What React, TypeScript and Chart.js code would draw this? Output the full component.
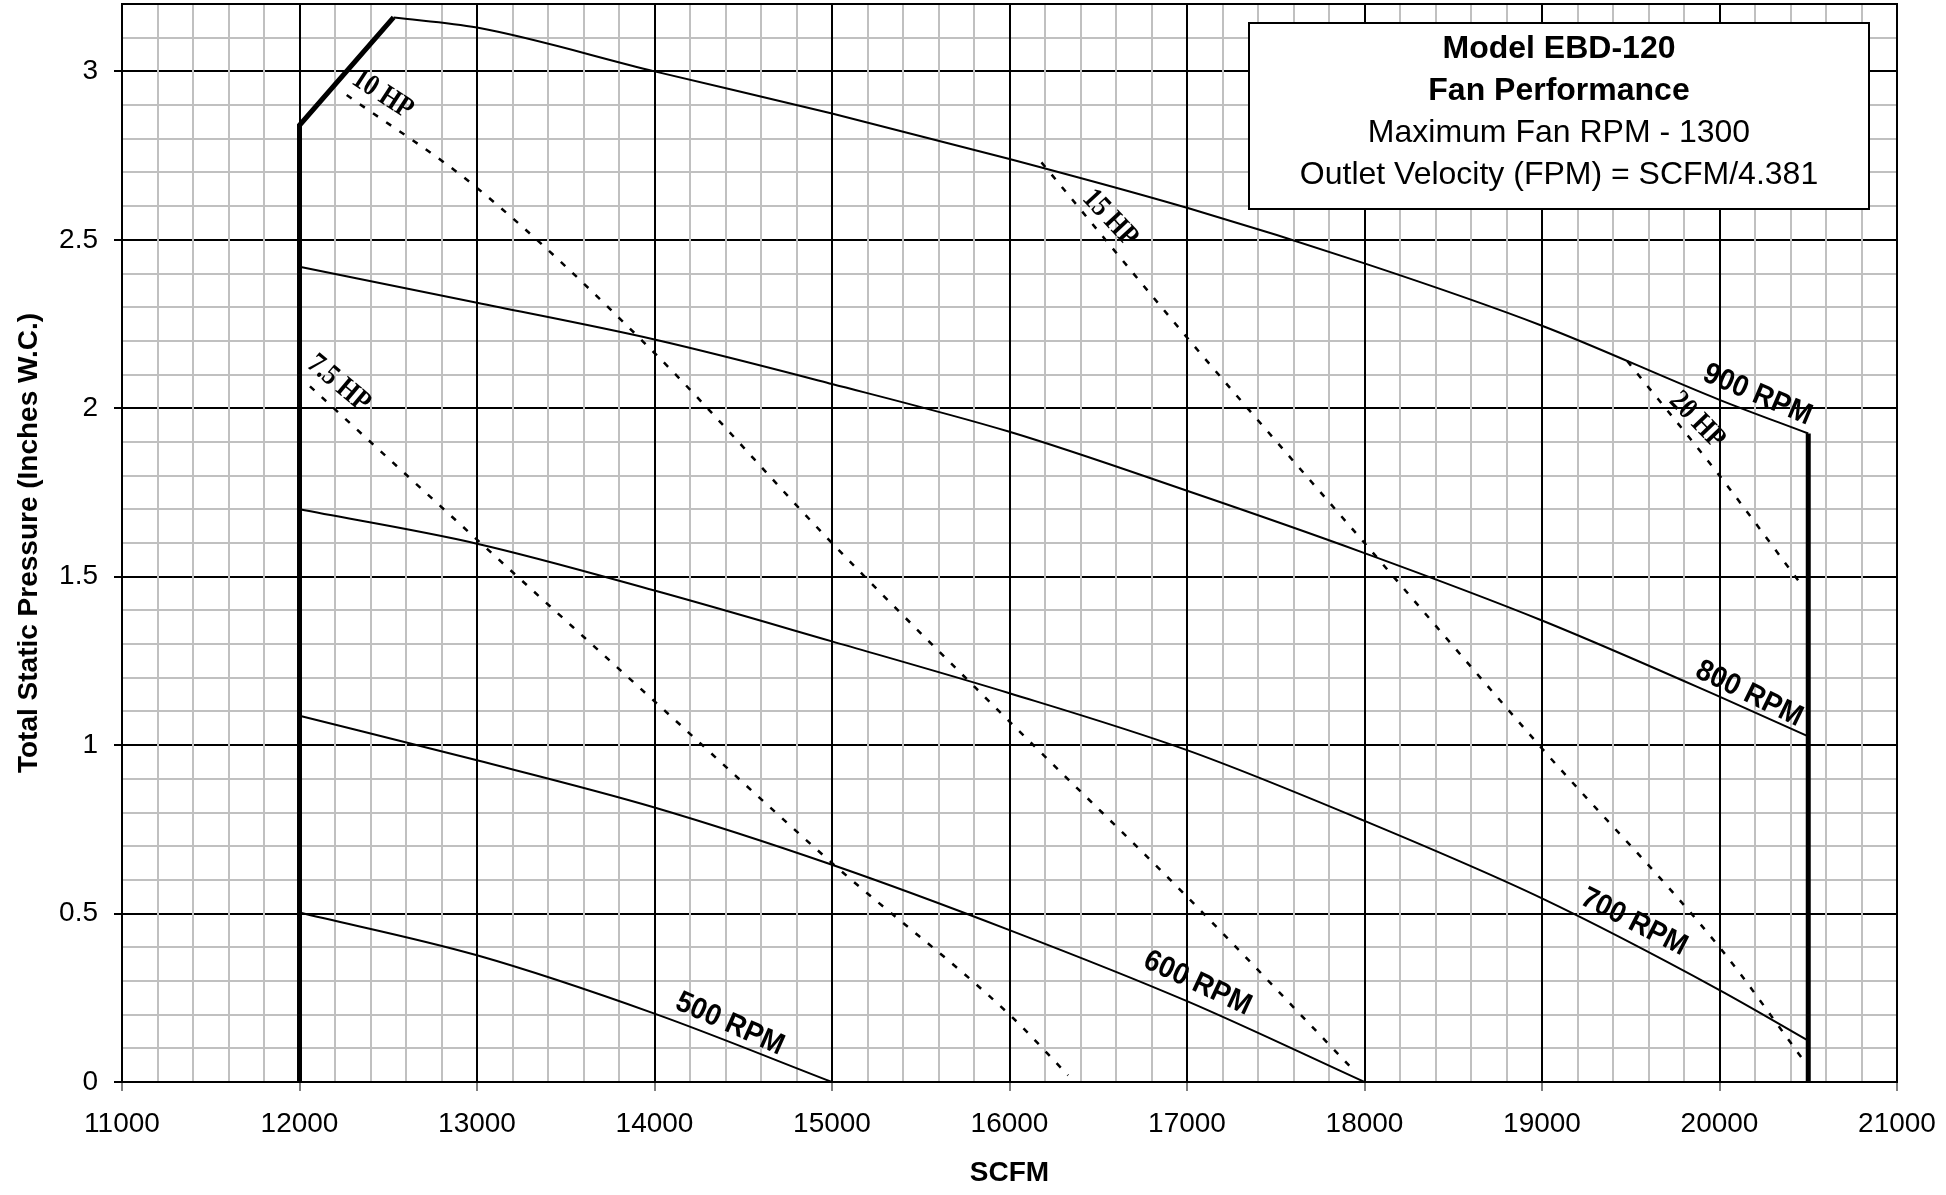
import React, { useEffect, useRef } from 'react';
import { Chart, registerables } from 'chart.js';

Chart.register(...registerables);

type P = { x: number; y: number };

// ---- Data (SCFM vs Total Static Pressure, inches W.C.) ----
const boundaryLeft: P[] = [
  { x: 12000, y: 0 },
  { x: 12000, y: 2.84 },
  { x: 12530, y: 3.16 },
];
const boundaryRight: P[] = [
  { x: 20500, y: 1.925 },
  { x: 20500, y: 0 },
];

const rpm900: P[] = [
  { x: 12530, y: 3.16 }, { x: 13000, y: 3.13 }, { x: 14000, y: 3.0 }, { x: 15000, y: 2.875 },
  { x: 16000, y: 2.74 }, { x: 17000, y: 2.595 }, { x: 18000, y: 2.43 }, { x: 19000, y: 2.245 },
  { x: 20000, y: 2.025 }, { x: 20500, y: 1.925 },
];
const rpm800: P[] = [
  { x: 12000, y: 2.42 }, { x: 13000, y: 2.313 }, { x: 14000, y: 2.204 }, { x: 15000, y: 2.072 },
  { x: 16000, y: 1.93 }, { x: 17000, y: 1.755 }, { x: 18000, y: 1.57 }, { x: 19000, y: 1.37 },
  { x: 20000, y: 1.144 }, { x: 20500, y: 1.026 },
];
const rpm700: P[] = [
  { x: 12000, y: 1.7 }, { x: 13000, y: 1.598 }, { x: 14000, y: 1.459 }, { x: 15000, y: 1.308 },
  { x: 16000, y: 1.154 }, { x: 17000, y: 0.985 }, { x: 18000, y: 0.775 }, { x: 19000, y: 0.545 },
  { x: 20000, y: 0.273 }, { x: 20500, y: 0.123 },
];
const rpm600: P[] = [
  { x: 12000, y: 1.087 }, { x: 13000, y: 0.955 }, { x: 14000, y: 0.815 }, { x: 15000, y: 0.645 },
  { x: 16000, y: 0.451 }, { x: 17000, y: 0.24 }, { x: 18000, y: 0.0 },
];
const rpm500: P[] = [
  { x: 12000, y: 0.503 }, { x: 13000, y: 0.376 }, { x: 14000, y: 0.203 }, { x: 15000, y: 0.0 },
];

const hp75: P[] = [
  { x: 12059, y: 2.065 }, { x: 13000, y: 1.61 }, { x: 14000, y: 1.13 }, { x: 15000, y: 0.65 },
  { x: 16000, y: 0.2 }, { x: 16330, y: 0.02 },
];
const hp10: P[] = [
  { x: 12266, y: 2.93 }, { x: 13000, y: 2.654 }, { x: 14000, y: 2.164 }, { x: 15000, y: 1.6 },
  { x: 16000, y: 1.07 }, { x: 17000, y: 0.55 }, { x: 17930, y: 0.04 },
];
const hp15: P[] = [
  { x: 16180, y: 2.73 }, { x: 17000, y: 2.21 }, { x: 18000, y: 1.6 }, { x: 19000, y: 0.99 },
  { x: 20000, y: 0.4 }, { x: 20480, y: 0.06 },
];
const hp20: P[] = [
  { x: 19480, y: 2.14 }, { x: 20000, y: 1.8 }, { x: 20470, y: 1.47 },
];

// Curve labels (anchor in data units, angle in degrees)
const rpmLabels = [
  { text: '900 RPM', x: 20214, y: 2.04, angle: 23 },
  { text: '800 RPM', x: 20166, y: 1.152, angle: 26 },
  { text: '700 RPM', x: 19518, y: 0.474, angle: 27 },
  { text: '600 RPM', x: 17059, y: 0.293, angle: 25 },
  { text: '500 RPM', x: 14424, y: 0.172, angle: 24 },
];
const hpLabels = [
  { text: '10 HP', x: 12468, y: 2.931, angle: 33 },
  { text: '7.5 HP', x: 12221, y: 2.073, angle: 40 },
  { text: '15 HP', x: 16566, y: 2.564, angle: 47 },
  { text: '20 HP', x: 19873, y: 1.964, angle: 46 },
];

const infoLines = [
  { text: 'Model EBD-120', bold: true },
  { text: 'Fan Performance', bold: true },
  { text: 'Maximum Fan RPM - 1300', bold: false },
  { text: 'Outlet Velocity (FPM) = SCFM/4.381', bold: false },
];

const X_MIN = 11000, X_MAX = 21000, X_STEP = 200, X_MAJOR = 1000;
const Y_MIN = 0, Y_MAX = 3.2, Y_STEP = 0.1, Y_MAJOR = 0.5;

const SANS = '"Liberation Sans", Arial, sans-serif';
const SERIF = '"Liberation Serif", "Times New Roman", serif';

const isMajorX = (v: number) => Math.abs(v / X_MAJOR - Math.round(v / X_MAJOR)) < 1e-6;
const isMajorY = (v: number) => Math.abs(v / Y_MAJOR - Math.round(v / Y_MAJOR)) < 1e-6;

const annotPlugin = {
  id: 'annot',
  beforeDatasetsDraw(chart: any) {
    const { ctx, chartArea } = chart;
    ctx.save();
    ctx.strokeStyle = '#000';
    ctx.lineWidth = 2;
    ctx.strokeRect(chartArea.left, chartArea.top, chartArea.right - chartArea.left, chartArea.bottom - chartArea.top);
    ctx.restore();
  },
  afterDatasetsDraw(chart: any) {
    const { ctx, chartArea } = chart;
    const xs = chart.scales.x;
    const ys = chart.scales.y;
    ctx.save();
    ctx.fillStyle = '#000';
    ctx.textAlign = 'center';
    ctx.textBaseline = 'middle';
    for (const l of rpmLabels) {
      ctx.save();
      ctx.translate(xs.getPixelForValue(l.x), ys.getPixelForValue(l.y));
      ctx.rotate((l.angle * Math.PI) / 180);
      ctx.scale(0.92, 1);
      ctx.font = `bold 30px ${SANS}`;
      ctx.fillText(l.text, 0, 0);
      ctx.restore();
    }
    for (const l of hpLabels) {
      ctx.save();
      ctx.translate(xs.getPixelForValue(l.x), ys.getPixelForValue(l.y));
      ctx.rotate((l.angle * Math.PI) / 180);
      ctx.scale(0.84, 1);
      ctx.font = `bold 30px ${SERIF}`;
      ctx.fillText(l.text, 0, 0);
      ctx.restore();
    }
    // info box
    const bw = 620, bh = 186;
    const bx = chartArea.right - 28 - bw;
    const by = chartArea.top + 19;
    ctx.fillStyle = '#fff';
    ctx.fillRect(bx, by, bw, bh);
    ctx.strokeStyle = '#000';
    ctx.lineWidth = 2;
    ctx.strokeRect(bx, by, bw, bh);
    ctx.fillStyle = '#000';
    ctx.textBaseline = 'alphabetic';
    infoLines.forEach((ln, i) => {
      ctx.font = `${ln.bold ? 'bold ' : ''}32px ${SANS}`;
      ctx.fillText(ln.text, bx + bw / 2, by + 35 + i * 42);
    });
    ctx.restore();
  },
};

function solid(data: P[], width: number, smooth: boolean) {
  return {
    data,
    showLine: true,
    borderColor: '#000',
    backgroundColor: '#000',
    borderWidth: width,
    pointRadius: 0,
    fill: false,
    cubicInterpolationMode: smooth ? 'monotone' : 'default',
    tension: 0,
    borderJoinStyle: 'miter',
  };
}
function dashed(data: P[]) {
  return {
    data,
    showLine: true,
    borderColor: '#000',
    borderWidth: 2.5,
    borderDash: [6, 10],
    pointRadius: 0,
    fill: false,
    cubicInterpolationMode: 'monotone',
  };
}

export default function App() {
  const ref = useRef<HTMLCanvasElement | null>(null);
  useEffect(() => {
    if (!ref.current) return;
    Chart.defaults.font.family = SANS;
    const chart = new Chart(ref.current, {
      type: 'scatter',
      data: {
        datasets: [
          dashed(hp75), dashed(hp10), dashed(hp15), dashed(hp20),
          solid(rpm500, 2, true), solid(rpm600, 2, true), solid(rpm700, 2, true),
          solid(rpm800, 2, true), solid(rpm900, 2, true),
          solid(boundaryLeft, 5, false), solid(boundaryRight, 5, false),
        ] as any,
      },
      options: {
        animation: false,
        responsive: true,
        maintainAspectRatio: false,
        layout: { padding: { top: 4, right: 49, left: 0, bottom: 0 } },
        plugins: { legend: { display: false }, tooltip: { enabled: false } },
        events: [],
        scales: {
          x: {
            type: 'linear',
            min: X_MIN,
            max: X_MAX,
            afterFit: (s: any) => {
              s.height = 113;
              s.paddingLeft = 0;
              s.paddingRight = 0;
            },
            ticks: {
              stepSize: X_STEP,
              autoSkip: false,
              maxRotation: 0,
              minRotation: 0,
              padding: 16,
              color: '#000',
              font: { size: 28, family: SANS },
              callback: (v: any) => (isMajorX(Number(v)) ? String(Math.round(Number(v))) : ''),
            },
            grid: {
              z: -1,
              color: (c: any) => (c.tick && isMajorX(c.tick.value) ? '#000' : '#c0c0c0'),
              lineWidth: 2,
              tickColor: (c: any) => (c.tick && isMajorX(c.tick.value) ? '#000' : 'rgba(0,0,0,0)'),
              tickLength: 9,
              tickWidth: 1,
            },
            border: { display: true, color: '#000', width: 2 },
            title: {
              display: true,
              text: 'SCFM',
              color: '#000',
              font: { size: 28, weight: 'bold', family: SANS },
              padding: { top: 0, bottom: 5 },
            },
          },
          y: {
            type: 'linear',
            min: Y_MIN,
            max: Y_MAX,
            afterFit: (s: any) => {
              s.width = 122;
              s.paddingTop = 0;
              s.paddingBottom = 0;
            },
            ticks: {
              stepSize: Y_STEP,
              autoSkip: false,
              padding: 16,
              color: '#000',
              font: { size: 28, family: SANS },
              callback: (v: any) => (isMajorY(Number(v)) ? String(Math.round(Number(v) * 10) / 10) : ''),
            },
            grid: {
              z: -2,
              color: (c: any) => (c.tick && isMajorY(c.tick.value) ? '#000' : '#c0c0c0'),
              lineWidth: 2,
              tickColor: (c: any) => (c.tick && isMajorY(c.tick.value) ? '#000' : 'rgba(0,0,0,0)'),
              tickLength: 8,
              tickWidth: 2,
            },
            border: { display: true, color: '#000', width: 2 },
            title: {
              display: true,
              text: 'Total Static Pressure (Inches W.C.)',
              color: '#000',
              font: { size: 28, weight: 'bold', family: SANS },
              padding: { top: 12, bottom: 0 },
            },
          },
        },
      } as any,
      plugins: [annotPlugin],
    });
    return () => chart.destroy();
  }, []);
  return (
    <div style={{ position: 'fixed', left: 0, top: 0, width: 1946, height: 1195, background: '#fff' }}>
      <canvas ref={ref} />
    </div>
  );
}
